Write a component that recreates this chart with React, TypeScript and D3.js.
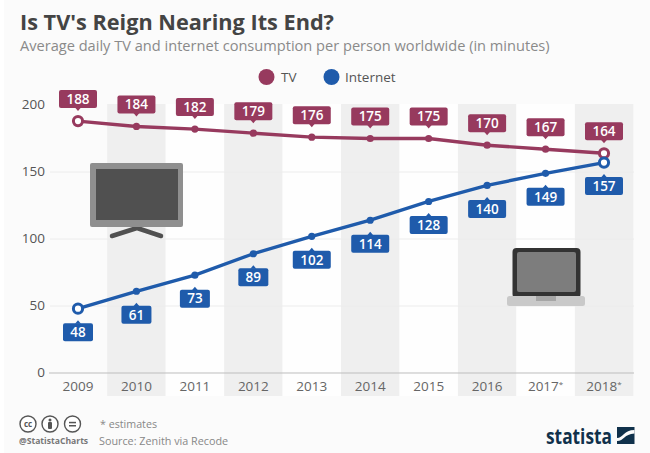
import React from "react";
import * as d3 from "d3";

const years = ["2009","2010","2011","2012","2013","2014","2015","2016","2017","2018"];
const yearStars = ["","","","","","","","","*","*"];
const tvValues = [188,184,182,179,176,175,175,170,167,164];
const netValues = [48,61,73,89,102,114,128,140,149,157];
const yTicks = [0,50,100,150,200];
const TV = "#973a5e";
const NET = "#1f5bab";
const FONT = "'Open Sans', sans-serif";

const x = d3.scalePoint<string>().domain(years).range([78, 604]);
const y = d3.scaleLinear().domain([0,200]).range([373, 105]);
const bw = 58.6;

function Tag({cx, cy, v, color, up, w}: {cx:number; cy:number; v:number; color:string; up:boolean; w:number}) {
  const h = 18;
  const top = up ? cy - 13 - h : cy + 14.5;
  const tip = up ? top + h + 3 : top - 3;
  const base = up ? top + h - 0.5 : top + 0.5;
  return (
    <g>
      <rect x={cx - w/2} y={top} width={w} height={h} rx={2} fill={color} />
      <path d={`M${cx-3},${base}L${cx},${tip}L${cx+3},${base}Z`} fill={color} />
      <text x={cx} y={top + 13.8} textAnchor="middle" fontSize={13.5} fontWeight={600} fill="#fff" fontFamily={FONT}>{v}</text>
    </g>
  );
}

function Series({values, color}: {values:number[]; color:string}) {
  const line = d3.line<number>().x((_, i) => x(years[i])!).y(d => y(d));
  const last = values.length - 1;
  return (
    <g>
      <path d={line(values)!} fill="none" stroke={color} strokeWidth={3.4} />
      {values.map((v, i) => {
        const cx = x(years[i])!, cy = y(v);
        const ends = i === 0 || i === last;
        return ends
          ? <circle key={i} cx={cx} cy={cy} r={4.6} fill="#fff" stroke={color} strokeWidth={3} />
          : <circle key={i} cx={cx} cy={cy} r={3.6} fill={color} />;
      })}
    </g>
  );
}

export default function App() {
  return (
    <svg width={650} height={453} style={{position:"absolute", left:0, top:0}} fontFamily={FONT}>
      <rect width={650} height={453} fill="#fbfbfb" />
      <rect x={0} y={0} width={4} height={453} fill="#ffffff" />
      <text x={20} y={30} fontSize={21.7} fontWeight={700} fill="#444444">Is TV's Reign Nearing Its End?</text>
      <text x={20} y={51} fontSize={14.6} fill="#8a8a8a">Average daily TV and internet consumption per person worldwide (in minutes)</text>

      <circle cx={266.5} cy={77} r={8} fill={TV} />
      <text x={281} y={82} fontSize={13.5} fill="#555">TV</text>
      <circle cx={331.5} cy={77} r={8} fill={NET} />
      <text x={345} y={82} fontSize={13.5} fill="#555">Internet</text>

      {years.map((yr, i) => i % 2 === 1 && (
        <rect key={yr} x={x(yr)! - bw/2} y={104} width={bw} height={292} fill="#efefef" />
      ))}
      {years.map((yr, i) => i % 2 === 0 && i > 0 && (
        <rect key={yr} x={x(yr)! - bw/2} y={104} width={bw} height={292} fill="#ffffff" opacity={0.7} />
      ))}

      {yTicks.map(t => (
        <g key={t}>
          {t > 0 && t < 200 && <line x1={50} x2={634} y1={y(t)} y2={y(t)} stroke="#ececec" strokeWidth={1} />}
          {t === 0 && <line x1={49} x2={634} y1={y(t)} y2={y(t)} stroke="#bdbdbd" strokeWidth={1} />}
          <text x={45} y={y(t) + 4} textAnchor="end" fontSize={13.5} fill="#555">{t}</text>
        </g>
      ))}

      {years.map((yr, i) => (
        <text key={yr} x={x(yr)!} y={391} textAnchor="middle" fontSize={13.5} fill="#666">
          {yr}{yearStars[i] && <tspan fontSize={8} dy={-4}>{yearStars[i]}</tspan>}
        </text>
      ))}

      {/* TV set */}
      <path d="M112,236 L137,228 L161,236" fill="none" stroke="#505050" strokeWidth={4.5} strokeLinecap="round" strokeLinejoin="round" />
      <rect x={90} y={163} width={93} height={64} rx={2} fill="#8f8f8f" />
      <rect x={96} y={169} width={82} height={51} fill="#505050" />

      {/* Laptop */}
      <rect x={512.5} y={248} width={68} height={50} rx={4} fill="#333333" />
      <rect x={517} y={252} width={59} height={40} rx={2} fill="#7d7d7d" />
      <rect x={507} y={296} width={78} height={10} rx={2.5} fill="#c9c9c9" />
      <rect x={536} y={296} width={20} height={5} fill="#a6a6a6" />

      <Series values={tvValues} color={TV} />
      <Series values={netValues} color={NET} />
      {tvValues.map((v, i) => <Tag key={i} cx={x(years[i])!} cy={y(v)} v={v} color={TV} up={true} w={38} />)}
      {netValues.map((v, i) => <Tag key={i} cx={x(years[i])!} cy={y(v)} v={v} color={NET} up={false} w={v >= 100 ? 38 : 30} />)}

      {/* Footer */}
      {[28, 50, 72.5].map((cx, i) => (
        <g key={i}>
          <circle cx={cx} cy={424} r={8} fill="#fff" stroke="#555" strokeWidth={1.4} />
          {i === 0 && <text x={cx} y={427} textAnchor="middle" fontSize={8} fontWeight={700} fill="#555">cc</text>}
          {i === 1 && <g fill="#555"><circle cx={cx} cy={420} r={1.5} /><rect x={cx-2} y={422} width={4} height={7} rx={1} /></g>}
          {i === 2 && <g fill="#555"><rect x={cx-3.5} y={421.8} width={7} height={1.5} /><rect x={cx-3.5} y={425} width={7} height={1.5} /></g>}
        </g>
      ))}
      <text x={19} y={444} fontSize={8.6} fontWeight={700} fill="#777">@StatistaCharts</text>
      <text x={100} y={428} fontSize={10.7} fill="#888">* estimates</text>
      <text x={99} y={445} fontSize={10.8} fill="#888">Source: Zenith via Recode</text>

      <text x={546} y={444} fontSize={22} fontWeight={700} fill="#10314b" textLength={66} lengthAdjust="spacingAndGlyphs">statista</text>
      <rect x={617} y={427} width={17.5} height={17} fill="#10314b" />
      <path d="M617,441 C624,441 624,434 634.5,433.5 L634.5,430 C624,430 623,438 617,438 Z" fill="#fbfbfb" />
    </svg>
  );
}
